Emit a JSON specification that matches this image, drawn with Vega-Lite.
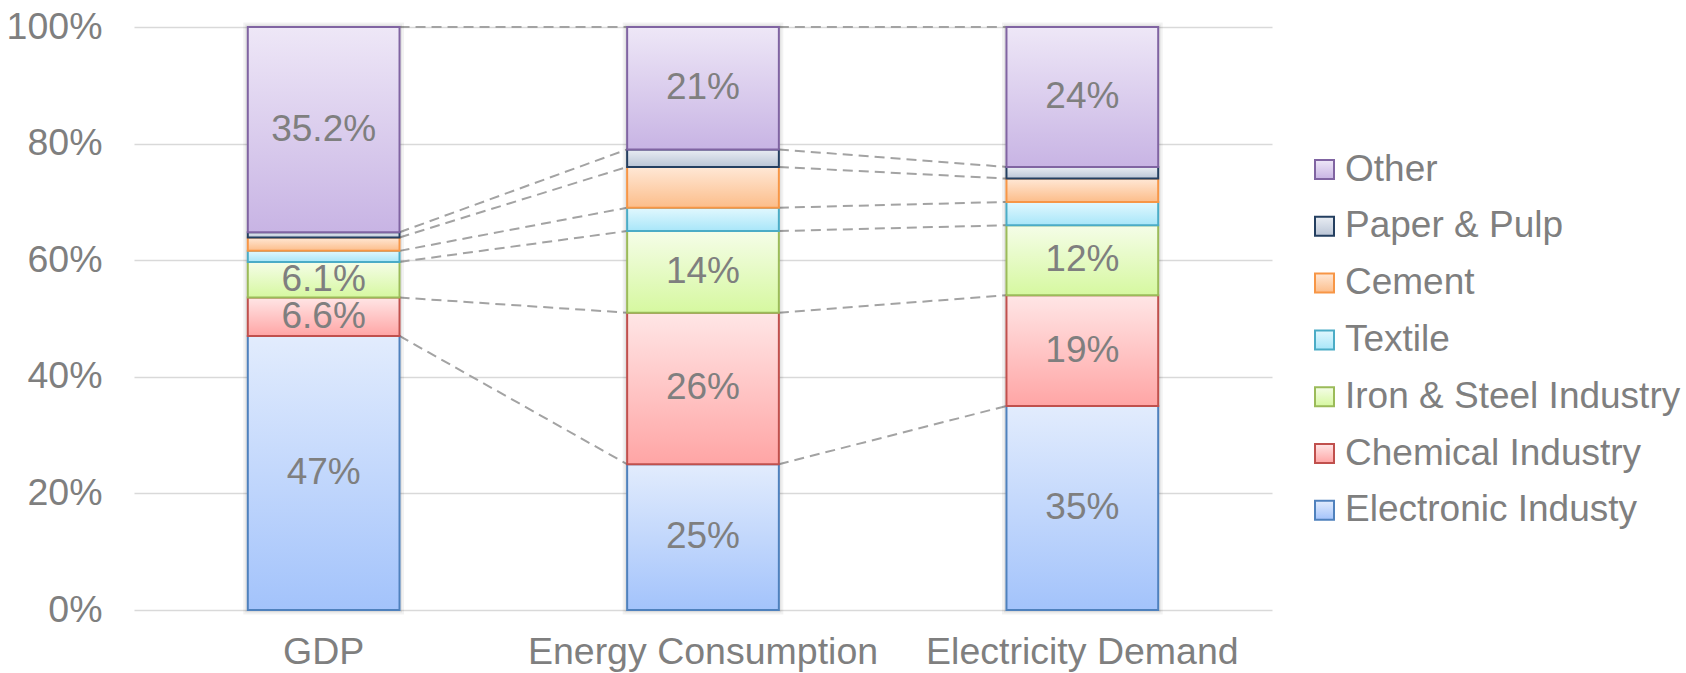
{
  "$schema": "https://vega.github.io/schema/vega-lite/v6.json",
  "width": 1138,
  "height": 583,
  "autosize": "none",
  "padding": {"left": 134, "top": 27, "right": 414, "bottom": 63},
  "background": "white",
  "config": {
    "font": "Liberation Sans",
    "view": {"stroke": null},
    "axis": {"labelColor": "#7f7f7f", "labelFontSize": 37.5, "ticks": false, "domain": false, "title": null, "labelLimit": 0},
    "legend": {
      "orient": "none",
      "legendX": 1172,
      "legendY": 124,
      "padding": 0,
      "symbolType": "square",
      "symbolSize": 361,
      "symbolStrokeWidth": 2,
      "labelFontSize": 37,
      "labelColor": "#7f7f7f",
      "labelOffset": 2,
      "labelLimit": 0,
      "rowPadding": 18.8
    }
  },
  "data": {
    "values": [
      {"category": "GDP", "sector": "Electronic Industy", "share": 0.47},
      {"category": "GDP", "sector": "Chemical Industry", "share": 0.066},
      {"category": "GDP", "sector": "Iron & Steel Industry", "share": 0.061},
      {"category": "GDP", "sector": "Textile", "share": 0.019},
      {"category": "GDP", "sector": "Cement", "share": 0.023},
      {"category": "GDP", "sector": "Paper & Pulp", "share": 0.009},
      {"category": "GDP", "sector": "Other", "share": 0.352},
      {"category": "Energy Consumption", "sector": "Electronic Industy", "share": 0.25},
      {"category": "Energy Consumption", "sector": "Chemical Industry", "share": 0.26},
      {"category": "Energy Consumption", "sector": "Iron & Steel Industry", "share": 0.14},
      {"category": "Energy Consumption", "sector": "Textile", "share": 0.04},
      {"category": "Energy Consumption", "sector": "Cement", "share": 0.07},
      {"category": "Energy Consumption", "sector": "Paper & Pulp", "share": 0.03},
      {"category": "Energy Consumption", "sector": "Other", "share": 0.21},
      {"category": "Electricity Demand", "sector": "Electronic Industy", "share": 0.35},
      {"category": "Electricity Demand", "sector": "Chemical Industry", "share": 0.19},
      {"category": "Electricity Demand", "sector": "Iron & Steel Industry", "share": 0.12},
      {"category": "Electricity Demand", "sector": "Textile", "share": 0.04},
      {"category": "Electricity Demand", "sector": "Cement", "share": 0.04},
      {"category": "Electricity Demand", "sector": "Paper & Pulp", "share": 0.02},
      {"category": "Electricity Demand", "sector": "Other", "share": 0.24}
    ]
  },
  "transform": [
    {"calculate": "indexof(['Electronic Industy','Chemical Industry','Iron & Steel Industry','Textile','Cement','Paper & Pulp','Other'], datum.sector)", "as": "order"},
    {"calculate": "indexof(['GDP','Energy Consumption','Electricity Demand'], datum.category)", "as": "catOrder"},
    {"stack": "share", "groupby": ["category"], "sort": [{"field": "order"}], "as": ["lo", "hi"]}
  ],
  "encoding": {
    "x": {
      "field": "category",
      "type": "nominal",
      "scale": {"domain": ["GDP", "Energy Consumption", "Electricity Demand"], "paddingInner": 0.6, "paddingOuter": 0.3},
      "axis": {"labelAngle": 0, "labelPadding": 23, "grid": false}
    }
  },
  "layer": [
    {
      "transform": [
        {"window": [{"op": "lead", "field": "hi", "as": "nextHi"}, {"op": "lead", "field": "category", "as": "nextCat"}], "groupby": ["sector"], "sort": [{"field": "catOrder"}]},
        {"filter": "datum.nextCat != null"}
      ],
      "mark": {"type": "rule", "color": "#a3a3a3", "strokeWidth": 2, "strokeDash": [10, 6]},
      "encoding": {
        "x": {"field": "category", "type": "nominal", "bandPosition": 1},
        "x2": {"field": "nextCat", "bandPosition": 0},
        "y": {"field": "hi", "type": "quantitative", "scale": {"domain": [0, 1]}},
        "y2": {"field": "nextHi"}
      }
    },
    {
      "mark": {"type": "bar", "fill": null, "stroke": "#000000", "strokeOpacity": 0.05, "strokeWidth": 9},
      "encoding": {
        "y": {"aggregate": "min", "field": "lo", "type": "quantitative"},
        "y2": {"aggregate": "max", "field": "hi"}
      }
    },
    {
      "mark": {"type": "bar", "fill": null, "stroke": "#000000", "strokeOpacity": 0.06, "strokeWidth": 5},
      "encoding": {
        "y": {"aggregate": "min", "field": "lo", "type": "quantitative"},
        "y2": {"aggregate": "max", "field": "hi"}
      }
    },
    {
      "mark": {"type": "bar", "strokeWidth": 2},
      "encoding": {
        "y": {
          "field": "lo",
          "type": "quantitative",
          "scale": {"domain": [0, 1]},
          "axis": {"values": [0, 0.2, 0.4, 0.6, 0.8, 1], "format": ".0%", "grid": true, "gridColor": "#d9d9d9", "gridWidth": 1.5, "labelPadding": 32}
        },
        "y2": {"field": "hi"},
        "fill": {
          "field": "sector",
          "type": "nominal",
          "title": null,
          "scale": {
            "domain": ["Other", "Paper & Pulp", "Cement", "Textile", "Iron & Steel Industry", "Chemical Industry", "Electronic Industy"],
            "range": [
              {"expr": "{gradient: 'linear', x1: 1, y1: 0, x2: 1, y2: 1, stops: [{offset: 0, color: '#eee7f7'}, {offset: 1, color: '#c8b4e4'}]}"},
              {"expr": "{gradient: 'linear', x1: 1, y1: 0, x2: 1, y2: 1, stops: [{offset: 0, color: '#e9edf3'}, {offset: 1, color: '#bac5d6'}]}"},
              {"expr": "{gradient: 'linear', x1: 1, y1: 0, x2: 1, y2: 1, stops: [{offset: 0, color: '#ffe8d6'}, {offset: 1, color: '#fcbd8a'}]}"},
              {"expr": "{gradient: 'linear', x1: 1, y1: 0, x2: 1, y2: 1, stops: [{offset: 0, color: '#e2f8fe'}, {offset: 1, color: '#a8e6f9'}]}"},
              {"expr": "{gradient: 'linear', x1: 1, y1: 0, x2: 1, y2: 1, stops: [{offset: 0, color: '#f5fde8'}, {offset: 1, color: '#d6f8a0'}]}"},
              {"expr": "{gradient: 'linear', x1: 1, y1: 0, x2: 1, y2: 1, stops: [{offset: 0, color: '#ffe6e6'}, {offset: 1, color: '#ffa5a5'}]}"},
              {"expr": "{gradient: 'linear', x1: 1, y1: 0, x2: 1, y2: 1, stops: [{offset: 0, color: '#e2ecfd'}, {offset: 1, color: '#a3c3fb'}]}"}
            ]
          }
        },
        "stroke": {
          "field": "sector",
          "type": "nominal",
          "title": null,
          "scale": {
            "domain": ["Other", "Paper & Pulp", "Cement", "Textile", "Iron & Steel Industry", "Chemical Industry", "Electronic Industy"],
            "range": ["#8064a2", "#243f60", "#f79646", "#4bacc6", "#9bbb59", "#c0504d", "#4f81bd"]
          }
        }
      }
    },
    {
      "transform": [
        {"filter": {"field": "sector", "oneOf": ["Other", "Iron & Steel Industry", "Chemical Industry", "Electronic Industy"]}},
        {"calculate": "(datum.lo + datum.hi) / 2", "as": "mid"}
      ],
      "mark": {"type": "text", "fontSize": 37, "color": "#7f7f7f", "baseline": "middle", "align": "center"},
      "encoding": {
        "y": {"field": "mid", "type": "quantitative"},
        "text": {"field": "share", "type": "quantitative", "format": ".3~p"}
      }
    }
  ]
}
